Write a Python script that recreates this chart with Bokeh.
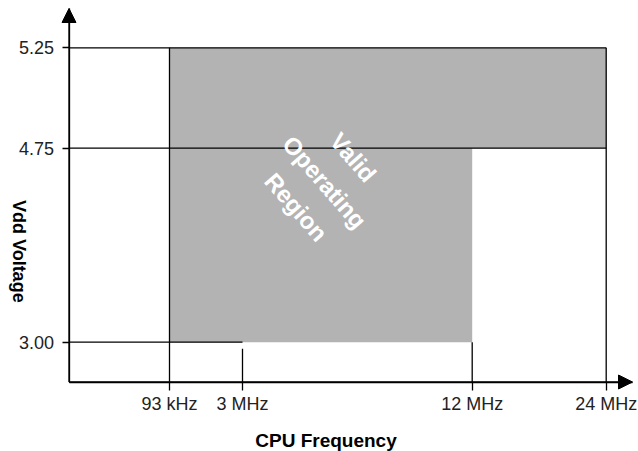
import math
from bokeh.plotting import figure
from bokeh.models import Range1d, FixedTicker, Arrow, NormalHead, Label, ColumnDataSource
from bokeh.embed import file_html
from bokeh.resources import INLINE

# ---- data ----
freq_labels = ["93 kHz", "3 MHz", "12 MHz", "24 MHz"]
voltage_levels = [3.00, 4.75, 5.25]
voltage_labels = ["3.00", "4.75", "5.25"]
region_label = "Valid\nOperating\nRegion"
x_axis_title = "CPU Frequency"
y_axis_title = "Vdd Voltage"

# schematic (not-to-scale) placement of the breakpoints along each axis
freq_axis_pos = [100.5, 173.5, 403.2, 537.2]
volt_axis_pos = [39.8, 233.8, 334.2]
x_axis_end = 563.5
y_axis_end = 373.5

f0, f1, f2, f3 = freq_axis_pos
v0, v1, v2 = volt_axis_pos

W, H = 638, 451
p = figure(width=W, height=H, output_backend="svg", toolbar_location=None,
           x_range=Range1d(-68.5, W - 68.5), y_range=Range1d(381.5 - H, 381.5),
           min_border=0)
p.xgrid.visible = False
p.ygrid.visible = False
p.outline_line_color = None
p.background_fill_color = "white"
p.border_fill_color = "white"

FONT = "Liberation Sans"
LW = 1.3

# x axis
p.xaxis.fixed_location = 0
p.xaxis.bounds = (0, x_axis_end)
p.xaxis.ticker = FixedTicker(ticks=freq_axis_pos)
p.xaxis.major_label_overrides = {pos: lab for pos, lab in zip(freq_axis_pos, freq_labels)}
p.xaxis.minor_tick_line_color = None
p.xaxis.major_tick_in = 0
p.xaxis.major_tick_out = 8
p.xaxis.major_tick_line_width = LW
p.xaxis.axis_line_width = LW
p.xaxis.major_label_text_font = FONT
p.xaxis.major_label_text_font_size = "18px"
p.xaxis.major_label_text_color = "#222222"
p.xaxis.major_label_standoff = 4

# y axis
p.yaxis.fixed_location = 0
p.yaxis.bounds = (0, y_axis_end)
p.yaxis.ticker = FixedTicker(ticks=volt_axis_pos)
p.yaxis.major_label_overrides = {pos: lab for pos, lab in zip(volt_axis_pos, voltage_labels)}
p.yaxis.minor_tick_line_color = None
p.yaxis.major_tick_in = 0
p.yaxis.major_tick_out = 7
p.yaxis.major_tick_line_width = LW
p.yaxis.axis_line_width = LW
p.yaxis.major_label_text_font = FONT
p.yaxis.major_label_text_font_size = "18px"
p.yaxis.major_label_text_color = "#222222"
p.yaxis.major_label_standoff = 8

# valid operating region
p.patch([f0, f2, f2, f3, f3, f0], [v0, v0, v1, v1, v2, v2],
        fill_color="#b3b3b3", line_color=None)

# boundary lines
seg = ColumnDataSource(dict(
    x0=[0, 0, 0, f0, f1, f2, f3],
    y0=[v2, v1, v0, 0, 0, 0, 0],
    x1=[f3, f3, f1, f0, f1, f2, f3],
    y1=[v2, v1, v0, v2, v0 - 6.6, v0, v2],
))
p.segment("x0", "y0", "x1", "y1", source=seg, line_color="black", line_width=LW)

# axis arrows
p.add_layout(Arrow(end=NormalHead(size=14, fill_color="black", line_color="black"),
                   x_start=0, y_start=0, x_end=0, y_end=y_axis_end,
                   line_color="black", line_width=LW))
p.add_layout(Arrow(end=NormalHead(size=14, fill_color="black", line_color="black"),
                   x_start=0, y_start=0, x_end=x_axis_end, y_end=0,
                   line_color="black", line_width=LW))

# region text
p.add_layout(Label(x=255.7, y=199.8, text=region_label, angle=-49 * math.pi / 180,
                   text_align="center", text_baseline="middle",
                   text_font=FONT, text_font_style="bold", text_font_size="24px",
                   text_color="white", text_line_height=1.4))

# axis titles
p.add_layout(Label(x=257, y=-58.5, text=x_axis_title, text_align="center",
                   text_baseline="middle", text_font=FONT, text_font_style="bold",
                   text_font_size="19px", text_color="black"))
p.add_layout(Label(x=-50, y=130.7, text=y_axis_title, angle=-math.pi / 2,
                   text_align="center", text_baseline="middle", text_font=FONT,
                   text_font_style="bold", text_font_size="18px", text_color="black"))

open("out.html", "w").write(file_html(p, INLINE))
